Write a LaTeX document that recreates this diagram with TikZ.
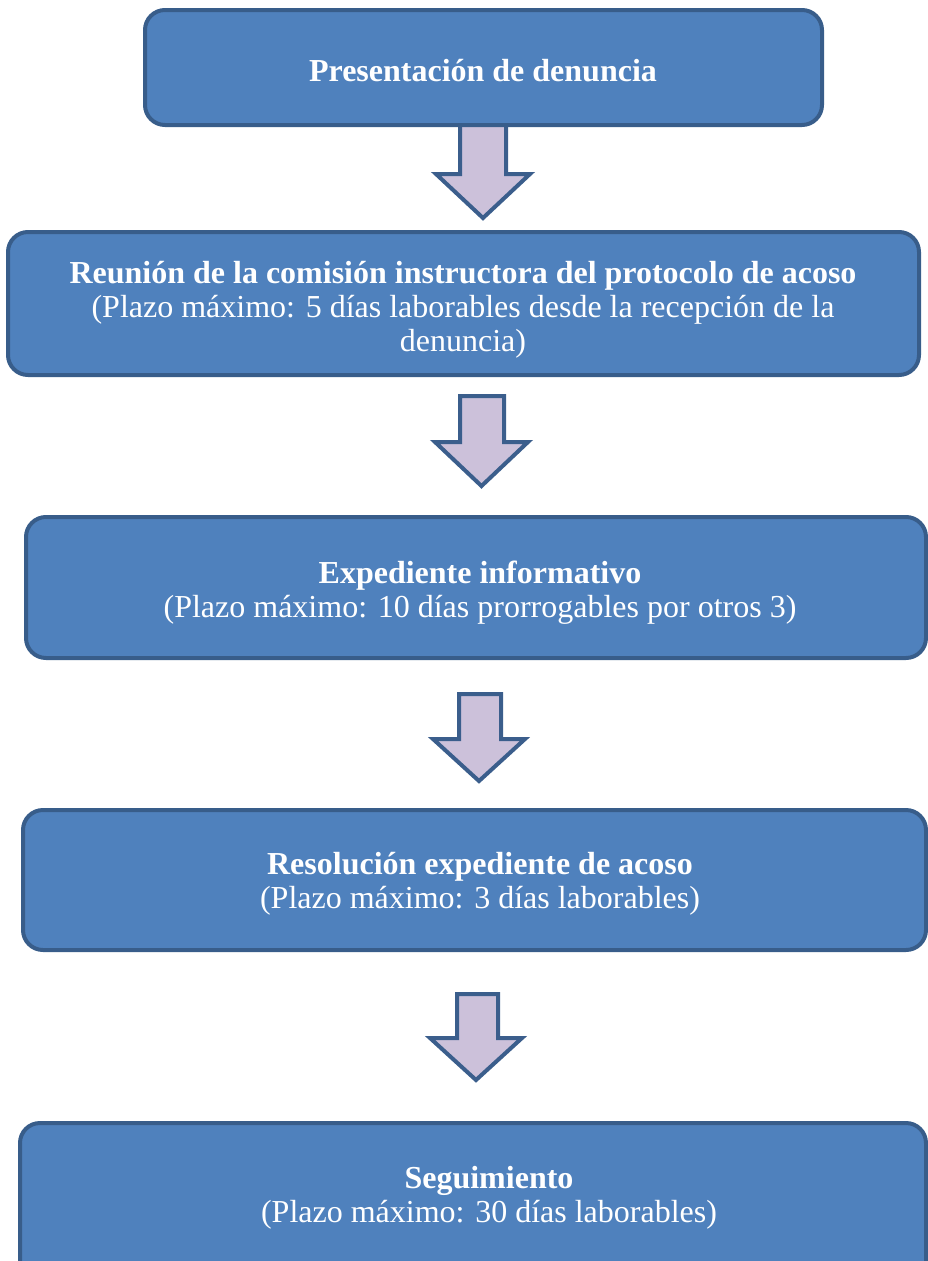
\documentclass[tikz,border=0pt]{standalone}
\usepackage{fontspec}
\setmainfont{Liberation Serif}
\definecolor{boxfill}{HTML}{4F81BD}
\definecolor{boxline}{HTML}{385D8A}
\definecolor{arrfill}{HTML}{CCC1DA}
\definecolor{arrline}{HTML}{3B5E8C}
\begin{document}
\begin{tikzpicture}[x=1pt,y=-1pt,
  stepbox/.style={draw=boxline, fill=boxfill, line width=4pt, rounded corners=20pt, inner sep=0pt},
  steptext/.style={text=white, align=center, inner sep=0pt, font=\fontsize{32}{34}\selectfont},
  blockarrow/.style={draw=arrline, fill=arrfill, line width=4pt, line join=miter}]
\path[use as bounding box] (0,0) rectangle (928,1261);
\clip (0,0) rectangle (928,1261);
% arrows
\draw[blockarrow] (460,120) -- (506,120) -- (506,174) -- (530,174) -- (483,218) -- (436,174) -- (460,174) -- cycle;
\draw[blockarrow] (460,396) -- (504,396) -- (504,442) -- (528,442) -- (481.5,486) -- (435,442) -- (460,442) -- cycle;
\draw[blockarrow] (459,694) -- (501,694) -- (501,739) -- (525,739) -- (479,781) -- (433,739) -- (459,739) -- cycle;
\draw[blockarrow] (457,994) -- (498,994) -- (498,1038) -- (522,1038) -- (476,1080) -- (430,1038) -- (457,1038) -- cycle;
% boxes
\node[stepbox, minimum width=677pt, minimum height=115pt] (b1) at (483.5,67.5) {};
\node[stepbox, minimum width=911pt, minimum height=143pt] (b2) at (463.5,303.5) {};
\node[stepbox, minimum width=900pt, minimum height=141pt] (b3) at (476,587.5) {};
\node[stepbox, minimum width=903pt, minimum height=140pt] (b4) at (474.5,880) {};
\node[stepbox, minimum width=906pt, minimum height=167pt] (b5) at (473,1206.5) {};
% texts
\node[steptext] (t1) at (483,71) {\textbf{Presentación de denuncia}};
\node[steptext] (t2) at (463,309.5) {\textbf{Reunión de la comisión instructora del protocolo de acoso}\\(Plazo máximo: 5 días laborables desde la recepción de la\\denuncia)};
\node[steptext] (t3) at (480,592.5) {\textbf{Expediente informativo}\\(Plazo máximo: 10 días prorrogables por otros 3)};
\node[steptext] (t4) at (480,883.5) {\textbf{Resolución expediente de acoso}\\(Plazo máximo: 3 días laborables)};
\node[steptext] (t5) at (489,1197.5) {\textbf{Seguimiento}\\(Plazo máximo: 30 días laborables)};
\end{tikzpicture}
\end{document}
